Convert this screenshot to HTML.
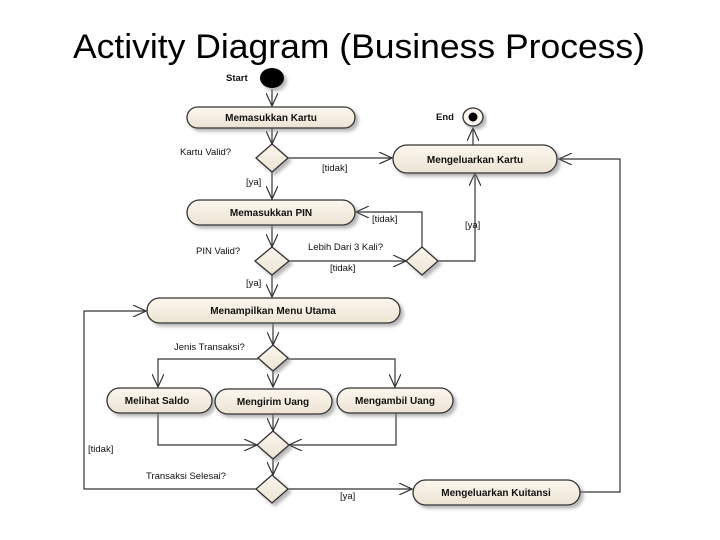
<!DOCTYPE html>
<html><head><meta charset="utf-8"><style>
html,body{margin:0;padding:0;background:#fff;}
svg{display:block;}
.n{fill:url(#g);stroke:#333;stroke-width:1.3;}
.l{fill:none;stroke:#333;stroke-width:1.2;}
.t{font-family:"Liberation Sans",sans-serif;font-size:10px;font-weight:bold;fill:#111;text-anchor:middle;}
.s{font-family:"Liberation Sans",sans-serif;font-size:9.5px;fill:#111;}
</style></head><body>
<svg width="720" height="540" viewBox="0 0 720 540" xmlns="http://www.w3.org/2000/svg">
<defs>
<linearGradient id="g" x1="0" y1="0" x2="0" y2="1"><stop offset="0" stop-color="#fbf6ee"/><stop offset="1" stop-color="#ece3d3"/></linearGradient>
<marker id="a" markerWidth="14" markerHeight="12" refX="13" refY="6" orient="auto" markerUnits="userSpaceOnUse"><path d="M0,0 L13,6 L0,12" fill="none" stroke="#333" stroke-width="1.2"/></marker>
<filter id="sh" x="-10%" y="-20%" width="130%" height="160%"><feDropShadow dx="3" dy="3" stdDeviation="1.5" flood-color="#888" flood-opacity="0.6"/></filter>
</defs>
<text x="359" y="58" font-family="Liberation Sans, sans-serif" font-size="34" text-anchor="middle" textLength="572" lengthAdjust="spacingAndGlyphs" fill="#000">Activity Diagram (Business Process)</text>

<!-- connectors -->
<g class="l">
<path d="M272,89 V106" marker-end="url(#a)"/>
<path d="M272,128 V144" marker-end="url(#a)"/>
<path d="M288,158 H392" marker-end="url(#a)"/>
<path d="M272,172 V199" marker-end="url(#a)"/>
<path d="M473,145 V128" marker-end="url(#a)"/>
<path d="M272,225 V247" marker-end="url(#a)"/>
<path d="M288,261 H406" marker-end="url(#a)"/>
<path d="M422,247 V212 H356" marker-end="url(#a)"/>
<path d="M438,261 H475 V173" marker-end="url(#a)"/>
<path d="M272,275 V297" marker-end="url(#a)"/>
<path d="M273,323 V345" marker-end="url(#a)"/>
<path d="M258,359 H158 V387" marker-end="url(#a)"/>
<path d="M273,371 V387" marker-end="url(#a)"/>
<path d="M288,359 H395 V387" marker-end="url(#a)"/>
<path d="M158,413 V445 H257" marker-end="url(#a)"/>
<path d="M273,414 V431" marker-end="url(#a)"/>
<path d="M396,413 V445 H289" marker-end="url(#a)"/>
<path d="M273,459 V475" marker-end="url(#a)"/>
<path d="M257,489 H84 V311 H146" marker-end="url(#a)"/>
<path d="M288,489 H412" marker-end="url(#a)"/>
<path d="M580,492 H620 V159 H559" marker-end="url(#a)"/>
</g>

<!-- start / end -->
<ellipse cx="272" cy="78" rx="12" ry="10" fill="#000" filter="url(#sh)"/>
<text class="s" x="226" y="81" font-weight="bold">Start</text>
<ellipse cx="473" cy="117" rx="10" ry="9" fill="#fbf6ee" stroke="#333" stroke-width="1.3" filter="url(#sh)"/>
<circle cx="473" cy="117" r="4.5" fill="#000"/>
<text class="s" x="436" y="120" font-weight="bold">End</text>

<!-- nodes -->
<g filter="url(#sh)">
<rect class="n" x="187" y="107" width="168" height="21" rx="10.5"/>
<rect class="n" x="393" y="145" width="164" height="28" rx="14"/>
<rect class="n" x="187" y="200" width="168" height="25" rx="12.5"/>
<rect class="n" x="147" y="298" width="253" height="25" rx="12.5"/>
<rect class="n" x="107" y="388" width="105" height="25" rx="12.5"/>
<rect class="n" x="215" y="389" width="117" height="25" rx="12.5"/>
<rect class="n" x="337" y="388" width="116" height="25" rx="12.5"/>
<rect class="n" x="413" y="480" width="167" height="25" rx="12.5"/>
<path class="n" d="M272,144 L288,158 L272,172 L256,158Z"/>
<path class="n" d="M272,247 L289,261 L272,275 L255,261Z"/>
<path class="n" d="M422,247 L438,261 L422,275 L406,261Z"/>
<path class="n" d="M273,345 L288,358 L273,371 L258,358Z"/>
<path class="n" d="M273,431 L289,445 L273,459 L257,445Z"/>
<path class="n" d="M272,475 L288,489 L272,503 L256,489Z"/>
</g>
<text class="t" x="271" y="121">Memasukkan Kartu</text>
<text class="t" x="475" y="163">Mengeluarkan Kartu</text>
<text class="t" x="271" y="216">Memasukkan PIN</text>
<text class="t" x="273" y="314">Menampilkan Menu Utama</text>
<text class="t" x="157" y="404">Melihat Saldo</text>
<text class="t" x="273" y="405">Mengirim Uang</text>
<text class="t" x="395" y="404">Mengambil Uang</text>
<text class="t" x="496" y="496">Mengeluarkan Kuitansi</text>

<!-- labels -->
<text class="s" x="180" y="155">Kartu Valid?</text>
<text class="s" x="322" y="171">[tidak]</text>
<text class="s" x="246" y="185">[ya]</text>
<text class="s" x="372" y="222">[tidak]</text>
<text class="s" x="465" y="228">[ya]</text>
<text class="s" x="196" y="254">PIN Valid?</text>
<text class="s" x="308" y="250">Lebih Dari 3 Kali?</text>
<text class="s" x="330" y="271">[tidak]</text>
<text class="s" x="246" y="286">[ya]</text>
<text class="s" x="174" y="350">Jenis Transaksi?</text>
<text class="s" x="88" y="452">[tidak]</text>
<text class="s" x="146" y="479">Transaksi Selesai?</text>
<text class="s" x="340" y="499">[ya]</text>
</svg>
</body></html>
